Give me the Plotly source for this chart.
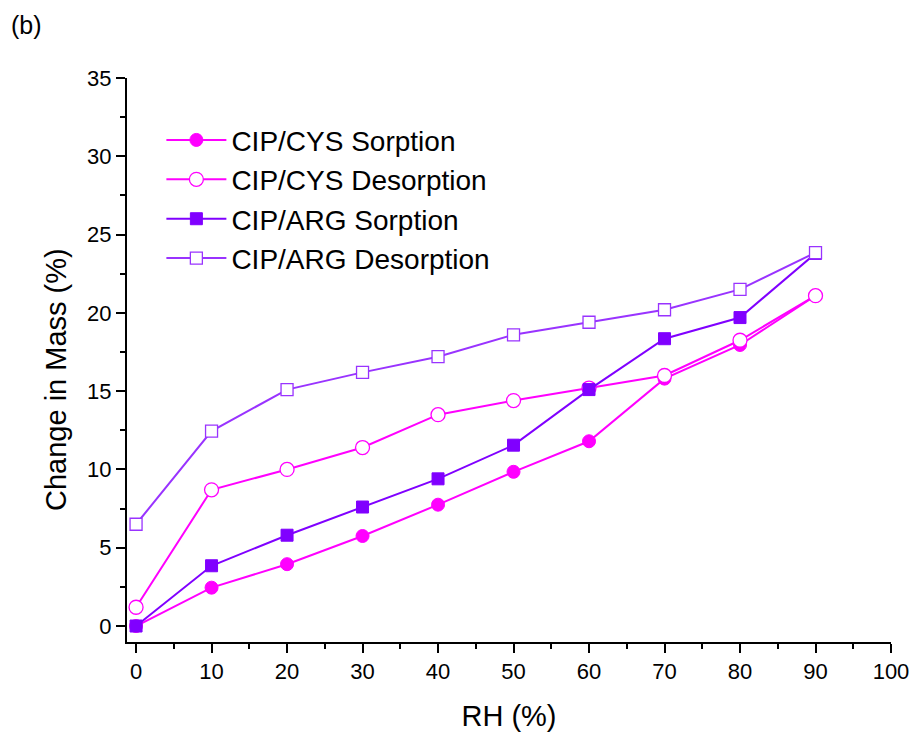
import plotly.graph_objects as go

rh = [0, 10, 20, 30, 40, 50, 60, 70, 80, 90]
cys_sorp = [0.0, 2.45, 3.95, 5.75, 7.75, 9.85, 11.8, 15.8, 17.95, 21.1]
cys_desorp = [1.2, 8.7, 10.0, 11.4, 13.5, 14.4, 15.2, 16.0, 18.25, 21.1]
arg_sorp = [0.0, 3.85, 5.8, 7.6, 9.4, 11.55, 15.1, 18.35, 19.7, 23.8]
arg_desorp = [6.5, 12.45, 15.1, 16.2, 17.2, 18.6, 19.4, 20.2, 21.5, 23.85]

names = ["CIP/CYS Sorption", "CIP/CYS Desorption", "CIP/ARG Sorption", "CIP/ARG Desorption"]
MAG = "#FF00FF"
PUR = "#8000FF"
PUR2 = "#9933FF"
FONT = "Liberation Sans, Arial, sans-serif"
PW = 913 - 127 - 22
PH = 736 - 78 - 94

fig = go.Figure()
fig.add_trace(go.Scatter(x=rh, y=cys_sorp, name=names[0], mode="lines+markers",
                         line=dict(color=MAG, width=2),
                         marker=dict(symbol="circle", size=13, color=MAG, line=dict(color=MAG, width=1))))
fig.add_trace(go.Scatter(x=rh, y=cys_desorp, name=names[1], mode="lines+markers",
                         line=dict(color=MAG, width=2),
                         marker=dict(symbol="circle", size=14, color="white", line=dict(color=MAG, width=1.3))))
fig.add_trace(go.Scatter(x=rh, y=arg_sorp, name=names[2], mode="lines+markers",
                         line=dict(color=PUR, width=2),
                         marker=dict(symbol="square", size=12, color=PUR, line=dict(color=PUR, width=1))))
fig.add_trace(go.Scatter(x=rh, y=arg_desorp, name=names[3], mode="lines+markers",
                         line=dict(color=PUR2, width=2),
                         marker=dict(symbol="square", size=12, color="white", line=dict(color=PUR2, width=1.3))))

fig.update_layout(
    width=913, height=736,
    margin=dict(l=127, r=22, t=78, b=94, autoexpand=False),
    plot_bgcolor="white", paper_bgcolor="white",
    font=dict(family=FONT, color="black"),
    legend=dict(x=0.045, y=0.934, xanchor="left", yanchor="top",
                font=dict(size=28, family=FONT), bgcolor="rgba(0,0,0,0)", tracegroupgap=0,
                itemwidth=60),
    showlegend=True,
)
fig.add_annotation(text="(b)", xref="paper", yref="paper",
                   x=(-127 + 9) / PW, y=1 + (78 - 25) / PH,
                   xanchor="left", yanchor="middle", showarrow=False,
                   font=dict(size=25, family=FONT))
fig.add_annotation(text="Change in Mass (%)", xref="paper", yref="paper",
                   x=(56 - 127) / PW, y=(642 - 380) / PH, textangle=-90,
                   xanchor="center", yanchor="middle", showarrow=False,
                   font=dict(size=29, family=FONT))

fig.update_xaxes(range=[-1.2, 100], tickmode="linear", tick0=0, dtick=10, automargin=False,
                 showgrid=False, zeroline=False, showline=True, linecolor="black", linewidth=2,
                 ticks="outside", ticklen=9, tickwidth=2, tickcolor="black",
                 tickfont=dict(size=22),
                 minor=dict(ticks="outside", ticklen=5, tickwidth=2, tickcolor="black", dtick=5, tick0=0, showgrid=False),
                 title=dict(text="RH (%)", font=dict(size=29), standoff=22))
fig.update_yaxes(range=[-1.02, 35], tickmode="linear", tick0=0, dtick=5, automargin=False,
                 showgrid=False, zeroline=False, showline=True, linecolor="black", linewidth=2,
                 ticks="outside", ticklen=9, tickwidth=2, tickcolor="black",
                 tickfont=dict(size=22),
                 minor=dict(ticks="outside", ticklen=5, tickwidth=2, tickcolor="black", dtick=2.5, tick0=0, showgrid=False))

fig.write_html("out.html")
